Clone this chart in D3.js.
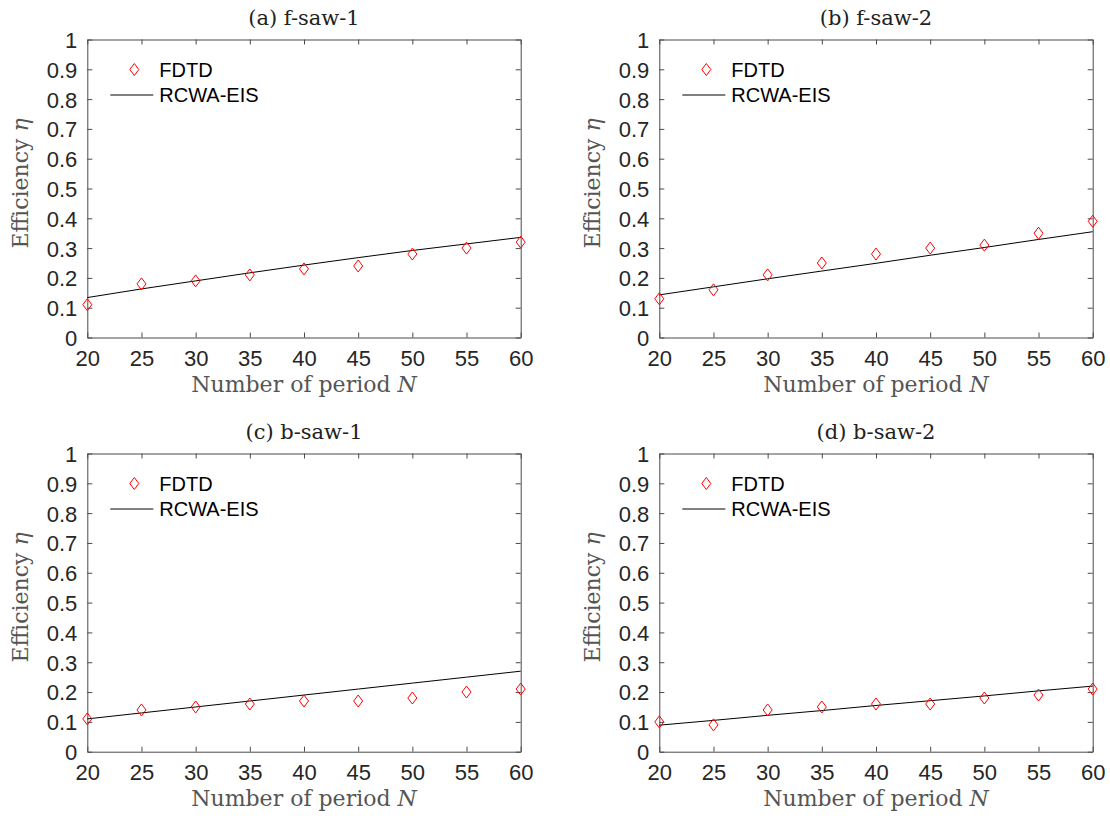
<!DOCTYPE html>
<html>
<head>
<meta charset="utf-8">
<script src="https://cdn.jsdelivr.net/npm/d3@7"></script>
<style>
  html, body { margin: 0; padding: 0; background: #fff; }
  svg { display: block; }
</style>
</head>
<body>
<svg id="chart" width="1110" height="821"></svg>
<script>
// ---------- data ----------
const periods = [20, 25, 30, 35, 40, 45, 50, 55, 60];
const xTicks = [20, 25, 30, 35, 40, 45, 50, 55, 60];
const yTicks = [0, 0.1, 0.2, 0.3, 0.4, 0.5, 0.6, 0.7, 0.8, 0.9, 1];
const yTickLabels = ["0", "0.1", "0.2", "0.3", "0.4", "0.5", "0.6", "0.7", "0.8", "0.9", "1"];
const panelTitles = ["(a) f-saw-1", "(b) f-saw-2", "(c) b-saw-1", "(d) b-saw-2"];
const seriesNames = ["FDTD", "RCWA-EIS"];

const fdtdA = [0.11, 0.18, 0.19, 0.21, 0.23, 0.24, 0.28, 0.30, 0.32];
const rcwaA = [0.134, 0.163, 0.190, 0.217, 0.243, 0.268, 0.292, 0.314, 0.336];
const fdtdB = [0.13, 0.16, 0.21, 0.25, 0.28, 0.30, 0.31, 0.35, 0.39];
const rcwaB = [0.143, 0.170, 0.197, 0.223, 0.249, 0.276, 0.302, 0.329, 0.355];
const fdtdC = [0.11, 0.14, 0.15, 0.16, 0.17, 0.17, 0.18, 0.20, 0.21];
const rcwaC = [0.110, 0.130, 0.150, 0.170, 0.190, 0.210, 0.230, 0.250, 0.270];
const fdtdD = [0.10, 0.09, 0.14, 0.15, 0.16, 0.16, 0.18, 0.19, 0.21];
const rcwaD = [0.089, 0.105, 0.122, 0.138, 0.155, 0.171, 0.187, 0.204, 0.220];

const panelFdtd = [fdtdA, fdtdB, fdtdC, fdtdD];
const panelRcwa = [rcwaA, rcwaB, rcwaC, rcwaD];

// ---------- layout ----------
const colX = [[87.3, 520.7], [659.3, 1092.7]];
const rowY = [[39.5, 337.5], [453.5, 751.7]];

const svg = d3.select("#chart");
const axisColor = "#4a4a4a";
const serif = "'DejaVu Serif', 'Liberation Serif', serif";
const sans = "'Liberation Sans', Arial, Helvetica, sans-serif";

function diamond(sel, w, h) {
  sel.attr("d", `M0,${-h/2}L${w/2},0L0,${h/2}L${-w/2},0Z`);
}

panelTitles.forEach((title, i) => {
  const [x0, x1] = colX[i % 2];
  const [y0, y1] = rowY[Math.floor(i / 2)];
  const x = d3.scaleLinear().domain([20, 60]).range([x0, x1]);
  const y = d3.scaleLinear().domain([0, 1]).range([y1, y0]);
  const g = svg.append("g");

  // axes (inward ticks, mirrored)
  const tickLen = 5;
  const bottom = g.append("g").attr("transform", `translate(0,${y1})`)
    .call(d3.axisBottom(x).tickValues(xTicks).tickSizeInner(-tickLen).tickSizeOuter(0).tickPadding(13).tickFormat(d3.format("d")));
  const top = g.append("g").attr("transform", `translate(0,${y0})`)
    .call(d3.axisTop(x).tickValues(xTicks).tickSizeInner(-tickLen).tickSizeOuter(0).tickFormat(""));
  const left = g.append("g").attr("transform", `translate(${x0},0)`)
    .call(d3.axisLeft(y).tickValues(yTicks).tickSizeInner(-tickLen).tickSizeOuter(0).tickPadding(10)
      .tickFormat((d, k) => yTickLabels[k]));
  const right = g.append("g").attr("transform", `translate(${x1},0)`)
    .call(d3.axisRight(y).tickValues(yTicks).tickSizeInner(-tickLen).tickSizeOuter(0).tickFormat(""));

  [bottom, top, left, right].forEach(a => {
    a.select(".domain").attr("stroke", axisColor).attr("stroke-width", 1);
    a.selectAll(".tick line").attr("stroke", axisColor).attr("stroke-width", 1);
    a.selectAll(".tick text").attr("font-family", sans).attr("font-size", 22).attr("fill", "#262626");
  });
  bottom.selectAll(".tick text").attr("dy", "0.71em");
  left.selectAll(".tick text").attr("dy", "0.36em");

  // RCWA line
  const line = d3.line().x((d, k) => x(periods[k])).y(d => y(d));
  g.append("path").datum(panelRcwa[i])
    .attr("d", line).attr("fill", "none").attr("stroke", "#000").attr("stroke-width", 1);

  // FDTD markers
  g.selectAll(".mk").data(panelFdtd[i]).enter().append("path")
    .attr("class", "mk")
    .call(diamond, 9, 12)
    .attr("transform", (d, k) => `translate(${x(periods[k])},${y(d)})`)
    .attr("fill", "none").attr("stroke", "#ff0000").attr("stroke-width", 1);

  // legend
  g.append("path").call(diamond, 9, 12)
    .attr("transform", `translate(${x0 + 47},${y0 + 30})`)
    .attr("fill", "none").attr("stroke", "#ff0000").attr("stroke-width", 1);
  g.append("text").attr("x", x0 + 72).attr("y", y0 + 30).attr("dy", "0.36em")
    .attr("font-family", sans).attr("font-size", 20).attr("fill", "#000").text(seriesNames[0]);
  g.append("line").attr("x1", x0 + 23).attr("x2", x0 + 66).attr("y1", y0 + 55.5).attr("y2", y0 + 55.5)
    .attr("stroke", "#000").attr("stroke-width", 1);
  g.append("text").attr("x", x0 + 72).attr("y", y0 + 55.5).attr("dy", "0.36em")
    .attr("font-family", sans).attr("font-size", 20).attr("fill", "#000").text(seriesNames[1]);

  // title
  g.append("text").attr("x", (x0 + x1) / 2).attr("y", y0 - 14.5)
    .attr("text-anchor", "middle").attr("font-family", serif).attr("font-size", 21)
    .attr("fill", "#222").text(title);

  // x label
  const xl = g.append("text").attr("x", (x0 + x1) / 2).attr("y", y1 + 54.5)
    .attr("text-anchor", "middle").attr("font-family", serif).attr("font-size", 22)
    .attr("fill", "#555");
  xl.append("tspan").text("Number of period ");
  xl.append("tspan").attr("font-style", "italic").text("N");

  // y label
  const yl = g.append("text")
    .attr("transform", `translate(${x0 - 59},${y0 + 144}) rotate(-90)`)
    .attr("text-anchor", "middle").attr("font-family", serif).attr("font-size", 22)
    .attr("fill", "#555");
  yl.append("tspan").text("Efficiency ");
  yl.append("tspan").attr("font-style", "italic").text("η");
});
</script>
</body>
</html>
